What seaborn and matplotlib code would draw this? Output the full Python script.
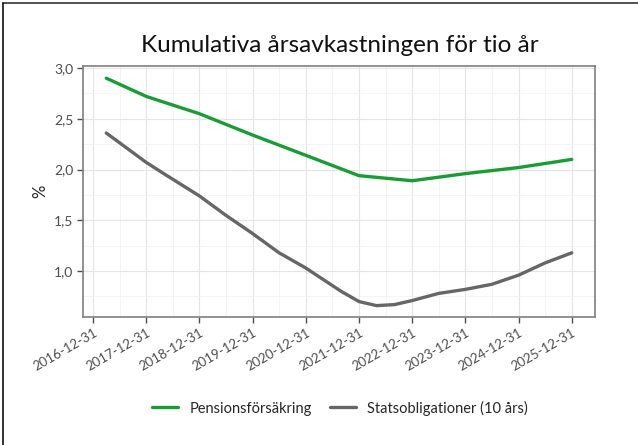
import matplotlib
matplotlib.use("Agg")
import matplotlib.pyplot as plt
from matplotlib.lines import Line2D
import seaborn as sns
import pandas as pd

# data
pension_dates = ["2017-03-31", "2017-12-31", "2018-12-31", "2019-12-31", "2020-12-31",
                 "2021-12-31", "2022-12-31", "2023-12-31", "2024-12-31", "2025-12-31"]
pension_vals = [2.90, 2.72, 2.55, 2.34, 2.14, 1.94, 1.89, 1.96, 2.02, 2.10]

bond_dates = ["2017-03-31", "2017-12-31", "2018-04-30", "2018-12-31", "2019-06-30",
              "2019-12-31", "2020-06-30", "2020-10-31", "2020-12-31", "2021-08-31",
              "2021-12-31", "2022-04-30", "2022-08-31", "2022-12-31", "2023-06-30",
              "2023-12-31", "2024-06-30", "2024-12-31", "2025-06-30", "2025-12-31"]
bond_vals = [2.36, 2.07, 1.96, 1.74, 1.55, 1.37, 1.18, 1.08, 1.03, 0.80,
             0.70, 0.66, 0.67, 0.71, 0.78, 0.82, 0.87, 0.96, 1.08, 1.18]

series_names = ["Pensionsförsäkring", "Statsobligationer (10 års)"]
colors = ["#1a9c35", "#666666"]
year_ticks = [f"{y}-12-31" for y in range(2016, 2026)]

df = pd.concat([
    pd.DataFrame({"datum": pd.to_datetime(pension_dates), "värde": pension_vals, "serie": series_names[0]}),
    pd.DataFrame({"datum": pd.to_datetime(bond_dates), "värde": bond_vals, "serie": series_names[1]}),
])

sns.set_theme(style="whitegrid")
plt.rcParams['font.family'] = ['Lato', 'DejaVu Sans']

fig = plt.figure(figsize=(6.38, 4.45), dpi=100)
ax = fig.add_axes([83/638, 1-317/445, (595-83)/638, (317-66)/445])

sns.lineplot(data=df, x="datum", y="värde", hue="serie", palette=colors,
             linewidth=2.4, ax=ax, legend=False)

# ggplot-like 5% expansion
d0, d1 = df["datum"].min(), df["datum"].max()
span = d1 - d0
ax.set_xlim(d0 - span * 0.05, d1 + span * 0.05)
ax.set_ylim(0.548, 3.02)

ticks = pd.to_datetime(year_ticks)
ax.set_xticks(ticks)
ax.set_xticklabels(year_ticks, rotation=30, ha="right", rotation_mode="anchor",
                   fontsize=9.5, color="#4d4d4d")
ax.set_xticks(ticks[:-1] + (ticks[1:] - ticks[:-1]) / 2, minor=True)
yt = [1.0, 1.5, 2.0, 2.5, 3.0]
ax.set_yticks(yt)
ax.set_yticklabels([f"{v:.1f}".replace(".", ",") for v in yt], fontsize=10, color="#4d4d4d")
ax.set_yticks([0.75, 1.25, 1.75, 2.25, 2.75], minor=True)

ax.grid(which="major", color="#e5e5e5", linewidth=0.8)
ax.grid(which="minor", color="#f2f2f2", linewidth=0.6)
ax.tick_params(axis="both", which="major", length=4, width=1, color="#4d4d4d", pad=3, left=True, bottom=True)
ax.tick_params(axis="both", which="minor", length=0)
for s in ax.spines.values():
    s.set_color("#7f7f7f")
    s.set_linewidth(1.2)

ax.set_xlabel("")
ax.set_ylabel("%", fontsize=12, color="#222222")

fig.text(340/638, 1-45/445, "Kumulativa årsavkastningen för tio år",
         ha="center", va="center", fontsize=17.5, color="#111111")

handles = [Line2D([0], [0], color=c, lw=2.4) for c in colors]
fig.legend(handles, series_names, loc="center", bbox_to_anchor=(340/638, 1-408/445),
           ncol=2, frameon=False, fontsize=10.5, handlelength=1.8, columnspacing=1.2)

# frame lines at top and left edges
fig.add_artist(Line2D([3/638, 1], [1-3/445, 1-3/445], color="#333333", lw=1.2))
fig.add_artist(Line2D([3/638, 3/638], [0, 1-3/445], color="#111111", lw=1.2))

fig.savefig("out.png", dpi=100)
